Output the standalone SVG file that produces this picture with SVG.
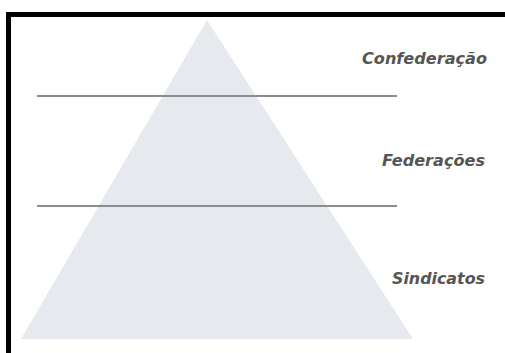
<svg xmlns="http://www.w3.org/2000/svg" width="505" height="353" viewBox="0 0 505 353">
<style>
.lbl{font-family:"DejaVu Sans","Liberation Sans",sans-serif;font-weight:bold;font-style:italic;font-size:16px;fill:#555555;text-anchor:end}
.sep{stroke:#8c8c8c;stroke-width:2}
</style>
<rect width="505" height="353" fill="#ffffff"/>
<g id="frame">
<rect x="6" y="12" width="499" height="5" fill="#000"/>
<rect x="6" y="12" width="5" height="341" fill="#000"/>
</g>
<g id="pyramid">
<polygon points="207,20 413,339 21,339" fill="#e6eaef"/>
</g>
<g id="connectors">
<line class="sep" x1="37" y1="96" x2="397" y2="96"/>
<line class="sep" x1="37" y1="206" x2="397" y2="206"/>
</g>
<g id="confederacao"><text class="lbl" x="487" y="64" textLength="125" lengthAdjust="spacingAndGlyphs">Confederação</text></g>
<g id="federacoes"><text class="lbl" x="485" y="166" textLength="103" lengthAdjust="spacingAndGlyphs">Federações</text></g>
<g id="sindicatos"><text class="lbl" x="485" y="284" textLength="93" lengthAdjust="spacingAndGlyphs">Sindicatos</text></g>
</svg>
